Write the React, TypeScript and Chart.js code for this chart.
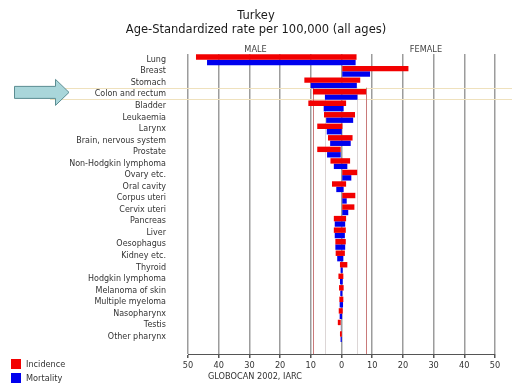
import React, { useEffect, useRef } from "react";
import { Chart, registerables } from "chart.js";

Chart.register(...registerables);

const TITLE = "Turkey";
const SUBTITLE = "Age-Standardized rate per 100,000 (all ages)";
const SIDE_LABELS = ["MALE", "FEMALE"];
const SOURCE = "GLOBOCAN 2002, IARC";
const SERIES_NAMES = ["Incidence", "Mortality"];

const CATEGORIES = [
  "Lung",
  "Breast",
  "Stomach",
  "Colon and rectum",
  "Bladder",
  "Leukaemia",
  "Larynx",
  "Brain, nervous system",
  "Prostate",
  "Non-Hodgkin lymphoma",
  "Ovary etc.",
  "Oral cavity",
  "Corpus uteri",
  "Cervix uteri",
  "Pancreas",
  "Liver",
  "Oesophagus",
  "Kidney etc.",
  "Thyroid",
  "Hodgkin lymphoma",
  "Melanoma of skin",
  "Multiple myeloma",
  "Nasopharynx",
  "Testis",
  "Other pharynx",
];

const MALE_INCIDENCE = [
  47.4, 0, 12.1, 9.3, 10.8, 5.7, 7.9, 4.4, 7.9, 3.6, 0, 3.1, 0, 0, 2.5, 2.5,
  2.0, 1.9, 0.5, 1.0, 0.8, 0.7, 0.9, 1.2, 0.5,
];
const FEMALE_INCIDENCE = [
  4.9, 21.8, 6.1, 8.0, 1.5, 4.4, 0.3, 3.6, 0, 2.8, 5.1, 1.5, 4.5, 4.2, 1.5, 1.4,
  1.4, 1.1, 1.9, 0.6, 0.7, 0.6, 0.4, 0, 0.1,
];
const MALE_MORTALITY = [
  43.8, 0, 10.0, 5.4, 5.8, 5.0, 4.8, 3.7, 4.7, 2.5, 0, 1.7, 0, 0, 2.2, 2.2, 2.0,
  1.4, 0.3, 0.5, 0.4, 0.6, 0.6, 0.2, 0.3,
];
const FEMALE_MORTALITY = [
  4.6, 9.3, 5.0, 5.2, 0.7, 3.8, 0.1, 3.0, 0, 1.9, 3.2, 0.7, 1.7, 2.2, 1.2, 1.1,
  1.2, 0.6, 0.4, 0.4, 0.3, 0.5, 0.2, 0, 0.1,
];

const X_MIN = -50;
const X_MAX = 50;
const X_STEP = 10;
const HIGHLIGHT = "Colon and rectum";

const RED = "#f20000";
const BLUE = "#0000ee";
const FONT = "'DejaVu Sans', Verdana, sans-serif";

export default function App() {
  const ref = useRef<HTMLCanvasElement>(null);

  useEffect(() => {
    const canvas = ref.current;
    if (!canvas) return;

    const overlay = {
      id: "overlay",
      beforeDatasetsDraw(chart: any) {
        const { ctx, chartArea, scales } = chart;
        const x = scales.x;
        const y = scales.y;
        const hi = CATEGORIES.indexOf(HIGHLIGHT);
        const cy = y.getPixelForValue(hi);
        const top = cy - 6.7;
        const bot = cy + 4.9;
        ctx.save();
        ctx.strokeStyle = "#efe1bd";
        ctx.lineWidth = 1;
        ctx.beginPath();
        ctx.moveTo(50, Math.round(top) + 0.5);
        ctx.lineTo(512, Math.round(top) + 0.5);
        ctx.moveTo(50, Math.round(bot) + 0.5);
        ctx.lineTo(512, Math.round(bot) + 0.5);
        ctx.stroke();
        const refs = [
          { v: -MALE_INCIDENCE[hi], c: "#c97a7a" },
          { v: FEMALE_INCIDENCE[hi], c: "#c97a7a" },
          { v: -MALE_MORTALITY[hi], c: "#dcd6d6" },
          { v: FEMALE_MORTALITY[hi], c: "#dcd6d6" },
        ];
        for (const r of refs) {
          const px = Math.round(x.getPixelForValue(r.v)) + 0.5;
          ctx.strokeStyle = r.c;
          ctx.beginPath();
          ctx.moveTo(px, top);
          ctx.lineTo(px, chartArea.bottom);
          ctx.stroke();
        }
        ctx.restore();
      },
      afterDraw(chart: any) {
        const { ctx, scales } = chart;
        const x = scales.x;
        ctx.save();
        ctx.fillStyle = "#1a1a1a";
        ctx.textAlign = "center";
        ctx.textBaseline = "alphabetic";
        ctx.font = `11.5px ${FONT}`;
        ctx.fillText(TITLE, 256, 18.5);
        ctx.fillText(SUBTITLE, 256, 32.5);
        ctx.font = `8.2px ${FONT}`;
        ctx.fillStyle = "#444";
        ctx.fillText(SIDE_LABELS[0], x.getPixelForValue(-28), 52.3);
        ctx.fillText(SIDE_LABELS[1], x.getPixelForValue(27.5), 52.3);
        ctx.textAlign = "left";
        ctx.fillStyle = "#333";
        ctx.fillText(SOURCE, 208, 379);
        ctx.fillStyle = RED;
        ctx.fillRect(11, 359, 10, 10);
        ctx.fillStyle = BLUE;
        ctx.fillRect(11, 373, 10, 10);
        ctx.fillStyle = "#333";
        ctx.textBaseline = "middle";
        ctx.fillText(SERIES_NAMES[0], 26, 364.5);
        ctx.fillText(SERIES_NAMES[1], 26, 378.5);
        const hi = CATEGORIES.indexOf(HIGHLIGHT);
        const cy = scales.y.getPixelForValue(hi) - 2;
        ctx.beginPath();
        ctx.moveTo(14.5, cy - 6);
        ctx.lineTo(55.5, cy - 6);
        ctx.lineTo(55.5, cy - 13);
        ctx.lineTo(69, cy);
        ctx.lineTo(55.5, cy + 13);
        ctx.lineTo(55.5, cy + 6);
        ctx.lineTo(14.5, cy + 6);
        ctx.closePath();
        ctx.fillStyle = "#a9d6da";
        ctx.fill();
        ctx.strokeStyle = "#5b8d92";
        ctx.lineWidth = 1;
        ctx.stroke();
        ctx.restore();
      },
    };

    const chart = new Chart(canvas, {
      type: "bar",
      data: {
        labels: [...CATEGORIES, ""],
        datasets: [
          {
            label: SERIES_NAMES[0],
            data: CATEGORIES.map((_, i) => [-MALE_INCIDENCE[i], FEMALE_INCIDENCE[i]]) as any,
            backgroundColor: RED,
            borderWidth: 0,
            categoryPercentage: 0.94,
            barPercentage: 1,
          },
          {
            label: SERIES_NAMES[1],
            data: CATEGORIES.map((_, i) => [-MALE_MORTALITY[i], FEMALE_MORTALITY[i]]) as any,
            backgroundColor: BLUE,
            borderWidth: 0,
            categoryPercentage: 0.94,
            barPercentage: 1,
          },
        ],
      },
      options: {
        indexAxis: "y",
        responsive: false,
        animation: false,
        devicePixelRatio: 1,
        layout: { padding: { top: 54, right: 17, left: 0, bottom: 0 } },
        plugins: {
          legend: { display: false },
          tooltip: { enabled: false },
          title: { display: false },
        },
        scales: {
          x: {
            type: "linear",
            min: X_MIN,
            max: X_MAX,
            afterFit: (s: any) => {
              s.height = 30;
            },
            ticks: {
              stepSize: X_STEP,
              callback: (v: any) => String(Math.abs(Number(v))),
              font: { family: FONT, size: 8.2 },
              color: "#333",
              padding: 3,
              maxRotation: 0,
            },
            grid: {
              color: "#9c9c9c",
              lineWidth: 1.5,
              tickLength: 4,
              tickColor: "#555",
            },
            border: { display: true, color: "#555", width: 1 },
          },
          y: {
            type: "category",
            afterFit: (s: any) => {
              s.width = 188;
            },
            ticks: {
              autoSkip: false,
              font: { family: FONT, size: 8.0 },
              color: "#333",
              padding: 14,
            },
            grid: { display: false },
            border: { display: false },
          },
        },
      },
      plugins: [overlay],
    });

    return () => chart.destroy();
  }, []);

  return (
    <div
      style={{
        position: "absolute",
        left: 0,
        top: 0,
        width: 512,
        height: 384,
        background: "#fff",
      }}
    >
      <canvas ref={ref} width={512} height={384} style={{ display: "block" }} />
    </div>
  );
}
